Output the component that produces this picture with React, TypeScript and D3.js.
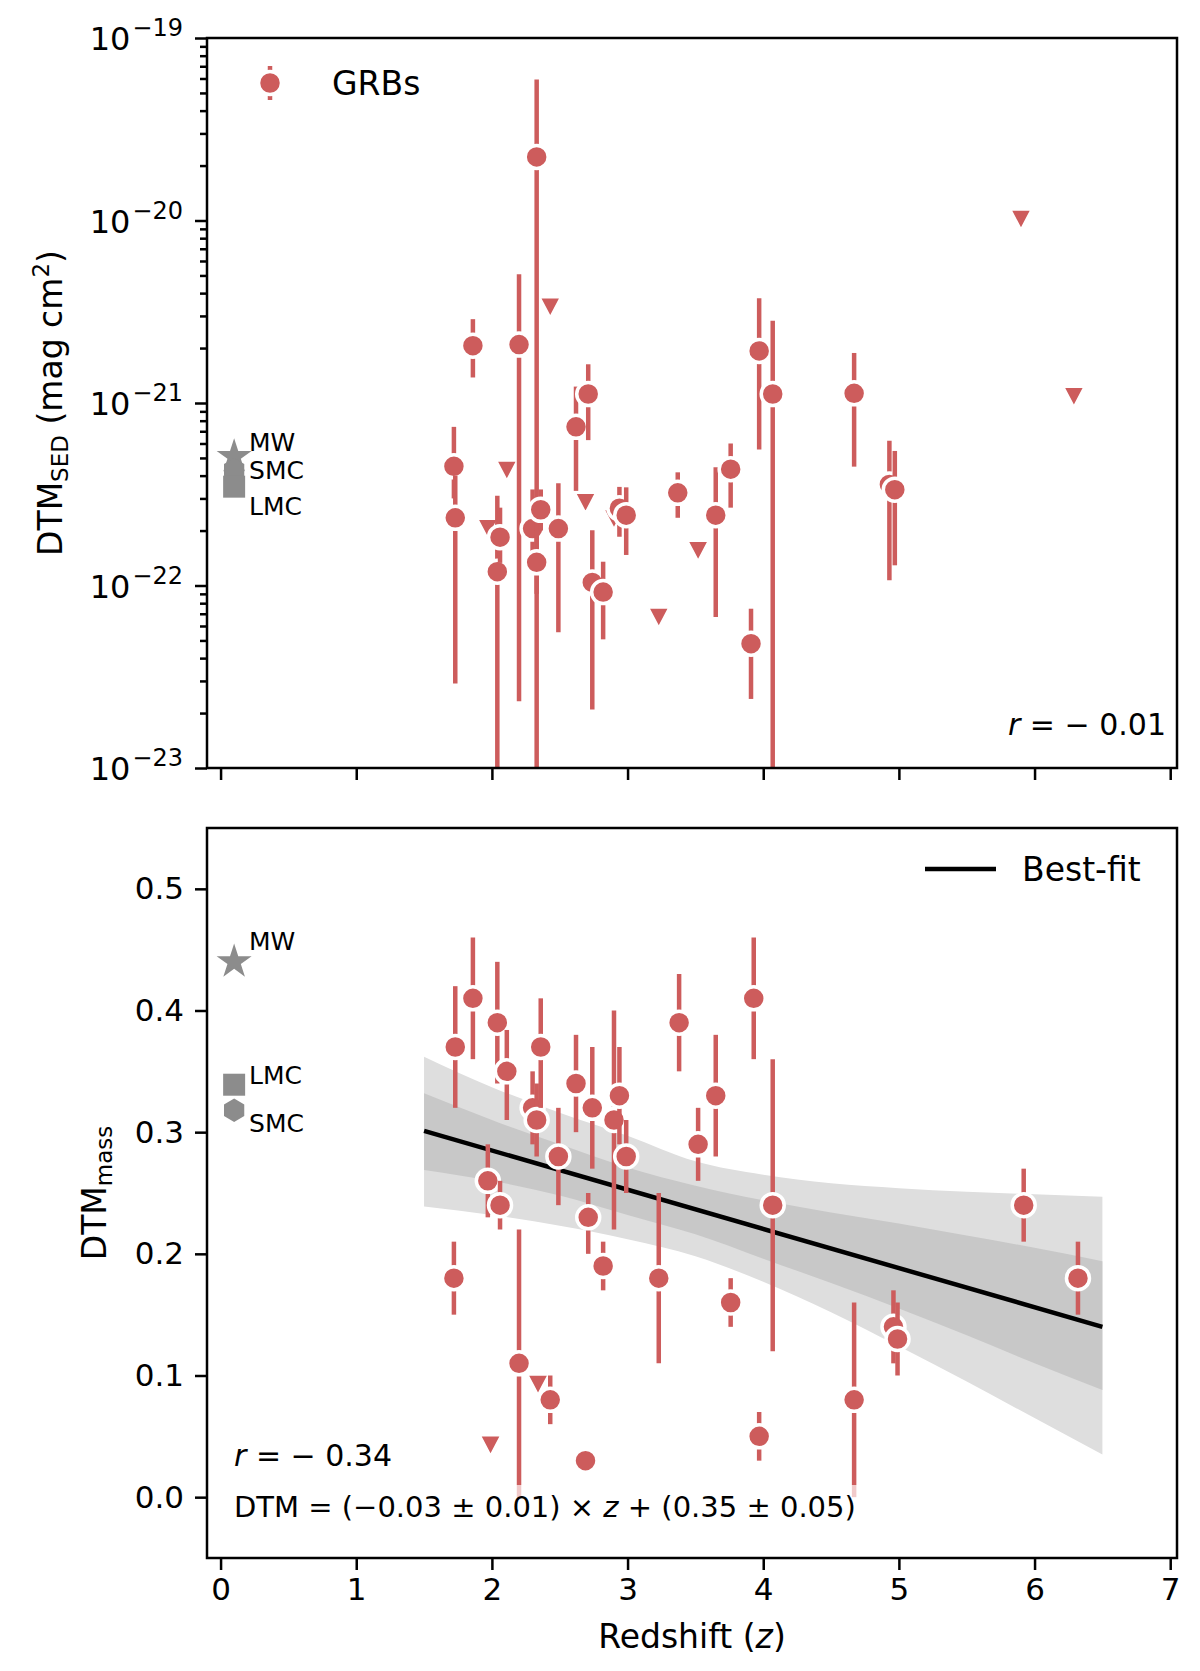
import { useRef, useEffect } from 'react';
import * as d3 from 'd3';

const RED = '#cd5c5c';
const GREY = '#8c8c8c';

// ---- top panel: DTM_SED (mag cm^2) ----
const sedZ = [1.72, 1.73, 1.86, 2.04, 2.06, 2.20, 2.30, 2.33, 2.33, 2.36, 2.49, 2.62, 2.71, 2.74, 2.82, 2.94, 2.99, 3.37, 3.65, 3.76, 3.91, 3.97, 4.07, 4.67, 4.93, 4.97];
const sedVal = [4.5e-22, 2.35e-22, 2.06e-21, 1.19e-22, 1.84e-22, 2.09e-21, 2.05e-22, 2.23e-20, 1.34e-22, 2.6e-22, 2.05e-22, 7.4e-22, 1.12e-21, 1.04e-22, 9.2e-23, 2.65e-22, 2.43e-22, 3.22e-22, 2.43e-22, 4.34e-22, 4.8e-23, 1.93e-21, 1.12e-21, 1.13e-21, 3.58e-22, 3.35e-22];
const sedHi = [7.4e-22, 4.0e-22, 2.88e-21, 3.1e-22, 2.67e-22, 5.08e-21, 3.36e-22, 5.93e-20, 2.0e-22, 3.36e-22, 3.63e-22, 1.23e-21, 1.63e-21, 2.01e-22, 1.35e-22, 3.47e-22, 3.45e-22, 4.17e-22, 4.44e-22, 6.0e-22, 7.46e-23, 3.75e-21, 2.82e-21, 1.88e-21, 6.21e-22, 5.46e-22];
const sedLo = [3.0e-22, 2.9e-23, 1.38e-21, 5e-24, 1.33e-22, 2.32e-23, 1.3e-22, 5e-24, 9e-23, 2.0e-22, 5.55e-23, 3.3e-22, 6.26e-22, 2.09e-23, 5.07e-23, 1.85e-22, 1.47e-22, 2.35e-22, 6.73e-23, 2.67e-22, 2.39e-23, 5.57e-22, 5e-24, 4.48e-22, 1.07e-22, 1.29e-22];
const sedLimZ = [1.97, 2.11, 2.43, 2.69, 2.90, 3.23, 3.52, 5.90, 6.29];
const sedLimVal = [2.06e-22, 4.3e-22, 3.37e-21, 2.86e-22, 2.33e-22, 6.73e-23, 1.56e-22, 1.02e-20, 1.09e-21];

// ---- bottom panel: DTM_mass ----
const massZ = [1.72, 1.73, 1.86, 1.97, 2.04, 2.06, 2.11, 2.20, 2.30, 2.33, 2.36, 2.43, 2.49, 2.62, 2.69, 2.71, 2.74, 2.82, 2.90, 2.94, 2.99, 3.23, 3.38, 3.52, 3.65, 3.76, 3.93, 3.97, 4.07, 4.67, 4.96, 4.99, 5.92, 6.32];
const massVal = [0.18, 0.37, 0.41, 0.26, 0.39, 0.24, 0.35, 0.11, 0.32, 0.31, 0.37, 0.08, 0.28, 0.34, 0.03, 0.23, 0.32, 0.19, 0.31, 0.33, 0.28, 0.18, 0.39, 0.29, 0.33, 0.16, 0.41, 0.05, 0.24, 0.08, 0.14, 0.13, 0.24, 0.18];
const massHi = [0.21, 0.42, 0.46, 0.29, 0.44, 0.26, 0.384, 0.22, 0.35, 0.34, 0.41, 0.10, 0.32, 0.38, 0.03, 0.25, 0.37, 0.21, 0.40, 0.37, 0.31, 0.25, 0.43, 0.32, 0.38, 0.18, 0.46, 0.07, 0.36, 0.16, 0.17, 0.16, 0.27, 0.21];
const massLo = [0.15, 0.32, 0.36, 0.23, 0.34, 0.22, 0.31, 0.0, 0.29, 0.28, 0.32, 0.06, 0.24, 0.30, 0.03, 0.20, 0.27, 0.17, 0.22, 0.29, 0.25, 0.11, 0.35, 0.26, 0.28, 0.14, 0.36, 0.03, 0.12, 0.0, 0.11, 0.10, 0.21, 0.15];
const massLimZ = [1.99, 2.34];
const massLimVal = [0.043, 0.093];

// ---- local galaxies ----
const localNames = ['MW', 'SMC', 'LMC'];
const localShapes = ['star', 'hex', 'square'];
const localZ = 0.1;
const localLabelZ = 0.21;
const sedLocal = [5.08e-22, 4.3e-22, 3.48e-22];
const sedLocalLabel = [5.48e-22, 3.82e-22, 2.43e-22];
const massLocal = [0.44, 0.318, 0.339];
const massLocalLabel = [0.45, 0.30, 0.34];

// ---- best fit and confidence bands ----
const fitZ = [1.5, 6.5];
const fitVal = [0.301, 0.140];
const bandZ = [1.5, 2.0, 2.5, 3.0, 3.5, 4.0, 4.5, 5.0, 5.5, 6.0, 6.5];
const outerHi = [0.362, 0.337, 0.316, 0.297, 0.276, 0.265, 0.258, 0.254, 0.251, 0.249, 0.247];
const innerHi = [0.332, 0.310, 0.290, 0.271, 0.256, 0.244, 0.234, 0.225, 0.215, 0.205, 0.194];
const innerLo = [0.269, 0.260, 0.248, 0.232, 0.216, 0.196, 0.176, 0.155, 0.133, 0.110, 0.088];
const outerLo = [0.239, 0.232, 0.223, 0.212, 0.198, 0.177, 0.152, 0.124, 0.095, 0.065, 0.035];

const xTicks = [0, 1, 2, 3, 4, 5, 6, 7];
const sedTicks = [1e-23, 1e-22, 1e-21, 1e-20, 1e-19];
const massTicks = [0, 0.1, 0.2, 0.3, 0.4, 0.5];

export default function App() {
    const ref = useRef<SVGSVGElement | null>(null);

    useEffect(() => {
        const font = 'DejaVu Sans, sans-serif';
        const left = 207, right = 1177;
        const top1 = 38, bot1 = 768;
        const top2 = 828, bot2 = 1558;

        const svg = d3.select(ref.current);
        svg.selectAll('*').remove();
        svg.append('rect').attr('width', 1200).attr('height', 1671).attr('fill', '#fff');

        const x = d3.scaleLinear().domain([-0.1, 7.05]).range([left, right]);
        const ySed = d3.scaleLog().domain([1e-23, 1e-19]).range([bot1, top1]);
        const yMass = d3.scaleLinear().domain([-0.05, 0.55]).range([bot2, top2]);

        const defs = svg.append('defs');
        defs.append('clipPath').attr('id', 'c1').append('rect')
            .attr('x', left).attr('y', top1).attr('width', right - left).attr('height', bot1 - top1);
        defs.append('clipPath').attr('id', 'c2').append('rect')
            .attr('x', left).attr('y', top2).attr('width', right - left).attr('height', bot2 - top2);

        const shapePath = (shape: string) => {
            if (shape === 'star') {
                const R = 18.4, r = R * 0.382;
                const pts: [number, number][] = [];
                for (let k = 0; k < 10; k++) {
                    const a = -Math.PI / 2 + k * Math.PI / 5;
                    const rr = k % 2 === 0 ? R : r;
                    pts.push([rr * Math.cos(a), rr * Math.sin(a)]);
                }
                return d3.line()(pts) + 'Z';
            }
            if (shape === 'hex') {
                const R = 11.7;
                const pts: [number, number][] = d3.range(6).map(k => {
                    const a = -Math.PI / 2 + k * Math.PI / 3;
                    return [R * Math.cos(a), R * Math.sin(a)];
                });
                return d3.line()(pts) + 'Z';
            }
            return 'M-11,-11H11V11H-11Z';
        };
        const triPath = 'M-10,-9L10,-9L0,10Z';

        const drawPoint = (g: any, cx: number, cy: number, y1: number, y2: number) => {
            if (Math.abs(y1 - y2) > 0.5) {
                g.append('line').attr('x1', cx).attr('x2', cx).attr('y1', y1).attr('y2', y2)
                    .attr('stroke', RED).attr('stroke-width', 4.5);
            }
            g.append('circle').attr('cx', cx).attr('cy', cy).attr('r', 11.5)
                .attr('fill', RED).attr('stroke', '#fff').attr('stroke-width', 3.5);
        };

        // ================= TOP PANEL =================
        const g1 = svg.append('g').attr('clip-path', 'url(#c1)');
        sedLimZ.forEach((z, i) => {
            g1.append('path').attr('d', triPath)
                .attr('transform', `translate(${x(z)},${ySed(sedLimVal[i])})`)
                .attr('fill', RED).attr('stroke', '#fff').attr('stroke-width', 1.5);
        });
        sedZ.forEach((z, i) => {
            drawPoint(g1, x(z), ySed(sedVal[i]), ySed(sedHi[i]), ySed(sedLo[i]));
        });
        localNames.forEach((name, i) => {
            g1.append('path').attr('d', shapePath(localShapes[i]))
                .attr('transform', `translate(${x(localZ)},${ySed(sedLocal[i])})`)
                .attr('fill', GREY);
            g1.append('text').attr('x', x(localLabelZ)).attr('y', ySed(sedLocalLabel[i]))
                .attr('font-family', font).attr('font-size', 25).text(name);
        });

        // axes top
        const ax1 = svg.append('g').attr('transform', `translate(${left},0)`)
            .call(d3.axisLeft(ySed).tickValues(sedTicks).tickSize(12).tickFormat(() => ''));
        const minor: number[] = [];
        [-23, -22, -21, -20].forEach(e => d3.range(2, 10).forEach(m => minor.push(m * Math.pow(10, e))));
        const ax1m = svg.append('g').attr('transform', `translate(${left},0)`)
            .call(d3.axisLeft(ySed).tickValues(minor).tickSize(7).tickFormat(() => ''));
        const ax1b = svg.append('g').attr('transform', `translate(0,${bot1})`)
            .call(d3.axisBottom(x).tickValues(xTicks).tickSize(12).tickFormat(() => ''));
        [ax1, ax1m, ax1b].forEach(a => {
            a.select('.domain').remove();
            a.selectAll('line').attr('stroke', '#000').attr('stroke-width', 2.5);
        });
        sedTicks.forEach(v => {
            const t = svg.append('text').attr('x', 183).attr('y', ySed(v) + 12)
                .attr('text-anchor', 'end').attr('font-family', font).attr('font-size', 32);
            t.append('tspan').text('10');
            t.append('tspan').attr('dx', 2).attr('dy', -14).attr('font-size', 24).text('\u2212' + Math.round(-Math.log10(v)));
        });
        svg.append('rect').attr('x', left).attr('y', top1).attr('width', right - left).attr('height', bot1 - top1)
            .attr('fill', 'none').attr('stroke', '#000').attr('stroke-width', 2.5);

        const yl1 = svg.append('text').attr('transform', `translate(62,${(top1 + bot1) / 2}) rotate(-90)`)
            .attr('text-anchor', 'middle').attr('font-family', font).attr('font-size', 33);
        yl1.append('tspan').text('DTM');
        yl1.append('tspan').attr('font-size', 23).attr('dy', 6).text('SED');
        yl1.append('tspan').attr('dy', -6).text(' (mag cm');
        yl1.append('tspan').attr('font-size', 23).attr('dy', -13).text('2');
        yl1.append('tspan').attr('dy', 13).text(')');

        // legend GRBs
        svg.append('line').attr('x1', 270).attr('x2', 270).attr('y1', 66).attr('y2', 100)
            .attr('stroke', RED).attr('stroke-width', 4.5);
        svg.append('circle').attr('cx', 270).attr('cy', 83).attr('r', 11.5)
            .attr('fill', RED).attr('stroke', '#fff').attr('stroke-width', 3.5);
        svg.append('text').attr('x', 332).attr('y', 95).attr('font-family', font).attr('font-size', 33).text('GRBs');

        const r1 = svg.append('text').attr('x', 1166).attr('y', 735).attr('text-anchor', 'end')
            .attr('font-family', font).attr('font-size', 30);
        r1.append('tspan').attr('font-style', 'italic').text('r');
        r1.append('tspan').text(' = \u2212 0.01');

        // ================= BOTTOM PANEL =================
        const g2 = svg.append('g').attr('clip-path', 'url(#c2)');
        const bandArea = (hi: number[], lo: number[]) => d3.area<number>()
            .x((_, i) => x(bandZ[i])).y0((_, i) => yMass(lo[i])).y1((_, i) => yMass(hi[i]))
            .curve(d3.curveMonotoneX)(bandZ);
        g2.append('path').attr('d', bandArea(outerHi, outerLo)).attr('fill', '#dedede');
        g2.append('path').attr('d', bandArea(innerHi, innerLo)).attr('fill', '#c8c8c8');
        g2.append('path').attr('d', d3.line<number>().x((z) => x(z)).y((_, i) => yMass(fitVal[i]))(fitZ))
            .attr('stroke', '#000').attr('stroke-width', 4.5).attr('fill', 'none');

        massLimZ.forEach((z, i) => {
            g2.append('path').attr('d', triPath)
                .attr('transform', `translate(${x(z)},${yMass(massLimVal[i])})`)
                .attr('fill', RED).attr('stroke', '#fff').attr('stroke-width', 1.5);
        });
        massZ.forEach((z, i) => {
            const lo = massLo[i];
            if (lo <= 0) {
                g2.append('line').attr('x1', x(z)).attr('x2', x(z)).attr('y1', yMass(0.01)).attr('y2', yMass(0))
                    .attr('stroke', '#f1caca').attr('stroke-width', 4.5);
            }
            drawPoint(g2, x(z), yMass(massVal[i]), yMass(massHi[i]), yMass(lo <= 0 ? 0.01 : lo));
        });
        localNames.forEach((name, i) => {
            g2.append('path').attr('d', shapePath(localShapes[i]))
                .attr('transform', `translate(${x(localZ)},${yMass(massLocal[i])})`)
                .attr('fill', GREY);
            g2.append('text').attr('x', x(localLabelZ)).attr('y', yMass(massLocalLabel[i]))
                .attr('font-family', font).attr('font-size', 25).text(name);
        });

        const ax2 = svg.append('g').attr('transform', `translate(${left},0)`)
            .call(d3.axisLeft(yMass).tickValues(massTicks).tickSize(12).tickPadding(11).tickFormat(d3.format('.1f')));
        const ax2b = svg.append('g').attr('transform', `translate(0,${bot2})`)
            .call(d3.axisBottom(x).tickValues(xTicks).tickSize(12).tickPadding(8).tickFormat(d3.format('d')));
        [ax2, ax2b].forEach(a => {
            a.select('.domain').remove();
            a.selectAll('line').attr('stroke', '#000').attr('stroke-width', 2.5);
            a.selectAll('text').attr('font-family', font).attr('font-size', 31).attr('fill', '#000');
        });
        svg.append('rect').attr('x', left).attr('y', top2).attr('width', right - left).attr('height', bot2 - top2)
            .attr('fill', 'none').attr('stroke', '#000').attr('stroke-width', 2.5);

        const yl2 = svg.append('text').attr('transform', `translate(106,${(top2 + bot2) / 2}) rotate(-90)`)
            .attr('text-anchor', 'middle').attr('font-family', font).attr('font-size', 33);
        yl2.append('tspan').text('DTM');
        yl2.append('tspan').attr('font-size', 23).attr('dy', 6).text('mass');

        const xl = svg.append('text').attr('x', (left + right) / 2).attr('y', 1648).attr('text-anchor', 'middle')
            .attr('font-family', font).attr('font-size', 33);
        xl.append('tspan').text('Redshift (');
        xl.append('tspan').attr('font-style', 'italic').text('z');
        xl.append('tspan').text(')');

        // legend best-fit
        svg.append('line').attr('x1', 925).attr('x2', 996).attr('y1', 869).attr('y2', 869)
            .attr('stroke', '#000').attr('stroke-width', 4.5);
        svg.append('text').attr('x', 1022).attr('y', 881).attr('font-family', font).attr('font-size', 33).text('Best-fit');

        const r2 = svg.append('text').attr('x', 234).attr('y', 1466).attr('font-family', font).attr('font-size', 30);
        r2.append('tspan').attr('font-style', 'italic').text('r');
        r2.append('tspan').text(' = \u2212 0.34');

        const eq = svg.append('text').attr('x', 234).attr('y', 1517).attr('font-family', font).attr('font-size', 29);
        eq.append('tspan').text('DTM  = (\u22120.03 \u00b1 0.01) \u00d7 ');
        eq.append('tspan').attr('font-style', 'italic').text('z');
        eq.append('tspan').text(' + (0.35 \u00b1 0.05)');
    }, []);

    return (
        <svg ref={ref} width={1200} height={1671} style={{ position: 'absolute', left: 0, top: 0 }} />
    );
}
